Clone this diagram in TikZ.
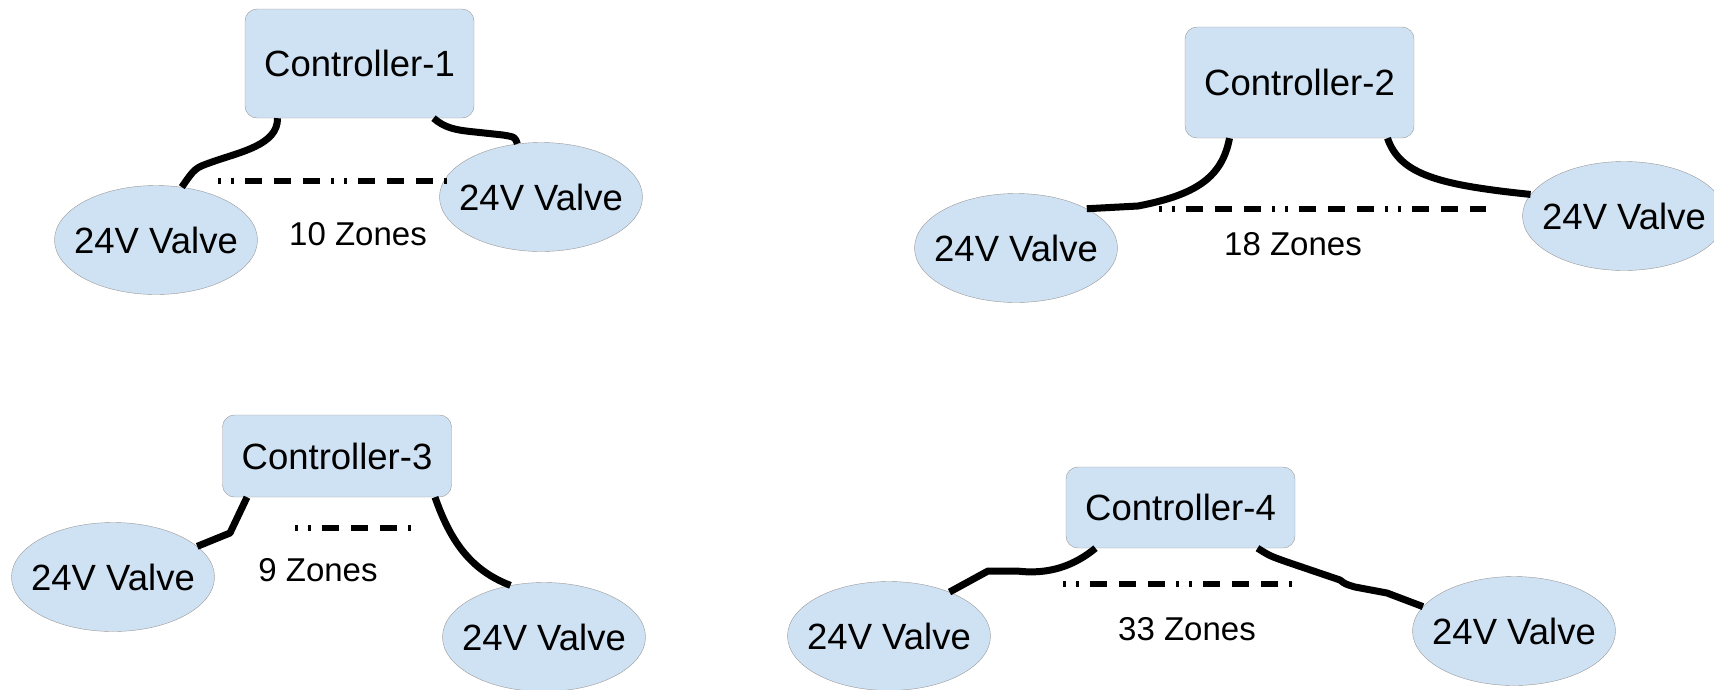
\documentclass[tikz,border=0pt]{standalone}
\usepackage{fontspec}
\setmainfont{Liberation Sans}
\usetikzlibrary{shapes.geometric,calc}

\definecolor{boxblue}{HTML}{CFE2F3}

\newcommand{\valvetext}{\makebox[0pt]{24V Valve}}

\begin{document}
\begin{tikzpicture}[x=1pt,y=-1pt,
  ctrl/.style={draw=black!40,fill=boxblue,rounded corners=12pt,minimum width=229pt,inner sep=0pt,font=\fontsize{36.5pt}{44pt}\selectfont},
  valve/.style={draw=black!40,fill=boxblue,ellipse,minimum width=203pt,minimum height=109pt,inner sep=0pt,font=\fontsize{36.5pt}{44pt}\selectfont},
  wire/.style={line width=7pt,line join=round},
  zonesline/.style={line width=6pt,dash pattern=on 3pt off 10pt on 3pt off 11pt on 17pt off 12pt on 17pt off 12pt on 17pt off 11pt},
  zones/.style={font=\fontsize{33pt}{40pt}\selectfont}]
  \useasboundingbox (0,0) rectangle (1714,689);

  % controller 1
  \node[ctrl,minimum height=109pt] (ctrlA) at (359.5,63.5) {Controller-1};
  \node[valve] (vA1) at (156,240) {\valvetext};
  \node[valve] (vA2) at (541,197) {\valvetext};
  \draw[wire] ($(ctrlA.south)+(-82,0)$) .. controls (278,145) and (240,152) .. (212,162)
    .. controls (195,168) .. (vA1.64);
  \draw[wire] ($(ctrlA.south)+(74,0)$) .. controls (445,128) and (455,130) .. (475,132)
    -- (503,135) .. controls (515,137) .. (vA2.114);
  \draw[zonesline] (218,181) -- (450,181);
  \node[zones] (zA) at (358,234) {10 Zones};

  % controller 2
  \node[ctrl,minimum height=111pt] (ctrlB) at (1299.5,82.5) {Controller-2};
  \node[valve] (vB1) at (1016,248) {\valvetext};
  \node[valve] (vB2) at (1624,216) {\valvetext};
  \draw[wire] ($(ctrlB.south)+(-70,0)$) .. controls (1222,178) and (1195,195) .. (1138,206)
    -- (vB1.29);
  \draw[wire] ($(ctrlB.south)+(88,0)$) .. controls (1400,175) and (1440,185) .. (vB2.167);
  \draw[zonesline] (1159,209) -- (1486,209);
  \node[zones] (zB) at (1293,244) {18 Zones};

  % controller 3
  \node[ctrl,minimum height=82pt] (ctrlC) at (337,456) {Controller-3};
  \node[valve] (vC1) at (113,577) {\valvetext};
  \node[valve] (vC2) at (544,637) {\valvetext};
  \draw[wire] ($(ctrlC.south)+(-90,0)$) -- (230,533) -- (vC1.20);
  \draw[wire] ($(ctrlC.south)+(98,0)$) .. controls (450,540) and (470,570) .. (vC2.123);
  \draw[zonesline] (295,528) -- (413,528);
  \node[zones] (zC) at (318,570) {9 Zones};

  % controller 4
  \node[ctrl,minimum height=81pt] (ctrlD) at (1180.5,507.5) {Controller-4};
  \node[valve] (vD1) at (889,636) {\valvetext};
  \node[valve] (vD2) at (1514,631) {\valvetext};
  \draw[wire] ($(ctrlD.south)+(-85,0)$) .. controls (1075,565) and (1050,575) .. (1017,571)
    -- (988,571) -- (vD1.36);
  \draw[wire] ($(ctrlD.south)+(77,0)$) .. controls (1270,556) .. (1287,562)
    -- (1340,580) .. controls (1345,584) .. (1355,587) -- (1387,593) -- (vD2.165);
  \draw[zonesline] (1063,584) -- (1293,584);
  \node[zones] (zD) at (1187,629) {33 Zones};
\end{tikzpicture}
\end{document}
